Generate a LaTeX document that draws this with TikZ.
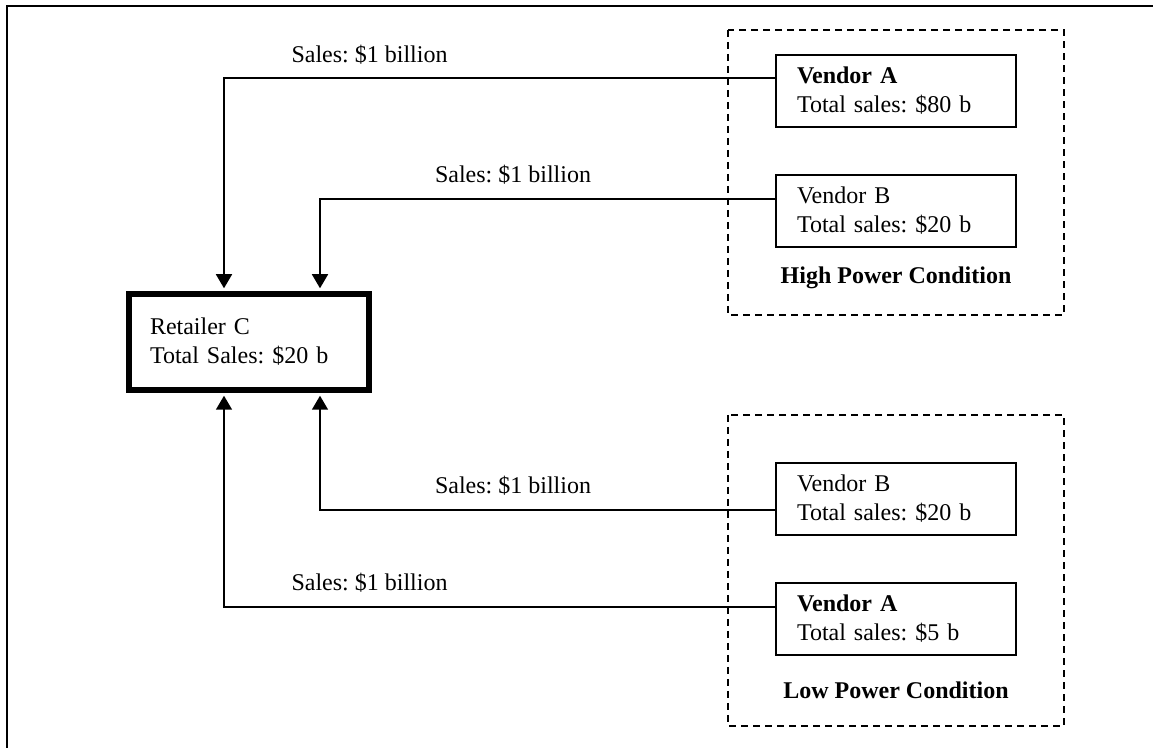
\documentclass[tikz,border=0pt,12pt]{standalone}
\usepackage{fontspec}
\setmainfont{Liberation Serif}
\usetikzlibrary{arrows.meta}
\frenchspacing

\begin{document}
\begin{tikzpicture}[x=0.5pt,y=-0.5pt,
  vendor/.style={draw,line width=0.8pt,minimum height=36pt,text width=99pt,inner xsep=10.5pt,align=left},
  retailer/.style={draw,line width=3pt,minimum height=47.75pt,text width=99pt,inner xsep=10.5pt,align=left},
  flow/.style={line width=0.8pt,-{Triangle[width=8pt,length=7pt]},shorten >=1.5pt},
  cond/.style={draw,line width=0.9pt,dash pattern=on 3.5pt off 2.5pt}]
\useasboundingbox (0,0) rectangle (1153,748);
\draw[line width=1.2pt] (7,748) -- (7,6) -- (1153,6);

\draw[cond] (728,30) rectangle (1064,315);
\draw[cond] (728,415) rectangle (1064,726);

\node[retailer] (ret) at (249,342) {Retailer C\\Total Sales: \$20 b\\[-6pt]};

\node[vendor] (hiA) at (896,91) {\textbf{Vendor A}\\Total sales: \$80 b};
\node[vendor] (hiB) at (896,211) {Vendor B\\Total sales: \$20 b};
\node[font=\bfseries] (hiCond) at (896,278) {High Power Condition};

\node[vendor] (loB) at (896,499) {Vendor B\\Total sales: \$20 b};
\node[vendor] (loA) at (896,619) {\textbf{Vendor A}\\Total sales: \$5 b};
\node[font=\bfseries] (loCond) at (896,690) {Low Power Condition};

\node (salesHiA) at (369.5,55) {Sales: \$1 billion};
\node (salesHiB) at (513,175) {Sales: \$1 billion};
\node (salesLoB) at (513,486) {Sales: \$1 billion};
\node (salesLoA) at (369.5,583) {Sales: \$1 billion};

\draw[flow] ([yshift=6.5pt]hiA.west) -| ([xshift=-12.5pt]ret.north);
\draw[flow] ([yshift=6pt]hiB.west) -| ([xshift=35.5pt]ret.north);
\draw[flow] ([yshift=-5.5pt]loB.west) -| ([xshift=35.5pt]ret.south);
\draw[flow] ([yshift=6pt]loA.west) -| ([xshift=-12.5pt]ret.south);
\end{tikzpicture}
\end{document}
